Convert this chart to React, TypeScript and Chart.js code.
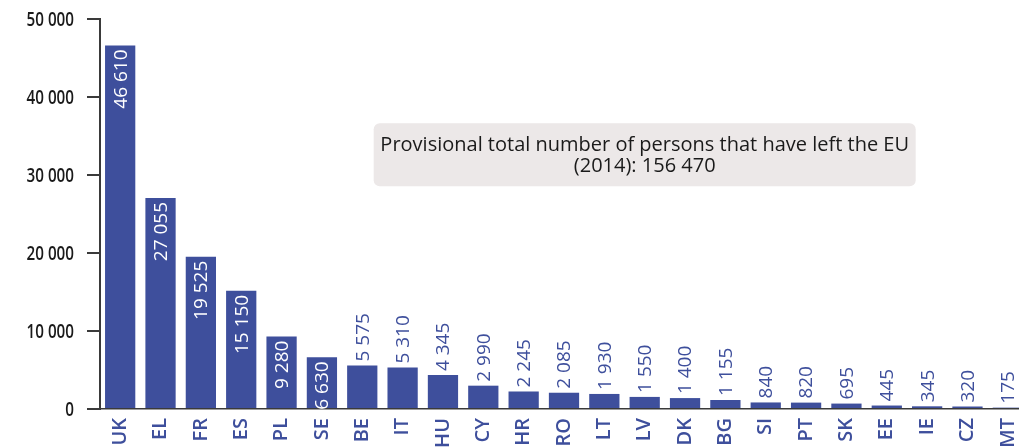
import React, { useEffect, useRef } from 'react';
import { Chart, registerables } from 'chart.js';

Chart.register(...registerables);

const categories = ['UK', 'EL', 'FR', 'ES', 'PL', 'SE', 'BE', 'IT', 'HU', 'CY', 'HR', 'RO', 'LT', 'LV', 'DK', 'BG', 'SI', 'PT', 'SK', 'EE', 'IE', 'CZ', 'MT'];
const values = [46610, 27055, 19525, 15150, 9280, 6630, 5575, 5310, 4345, 2990, 2245, 2085, 1930, 1550, 1400, 1155, 840, 820, 695, 445, 345, 320, 175];
const yTicks = [0, 10000, 20000, 30000, 40000, 50000];
const noteLines = ['Provisional total number of persons that have left the EU', '(2014): 156 470'];

const BLUE = '#3e4f9c';
const AXIS = '#3a3a3a';
const TEXT = '#1a1a1a';

const fmt = (v: number) => String(v).replace(/\B(?=(\d{3})+(?!\d))/g, ' ');

const valueLabels = {
  id: 'valueLabels',
  afterDatasetsDraw(chart: any) {
    const ctx = chart.ctx;
    const meta = chart.getDatasetMeta(0);
    meta.data.forEach((bar: any, i: number) => {
      const v = values[i];
      const inside = v > 6000;
      ctx.save();
      ctx.translate(bar.x, inside ? bar.y + 4 : bar.y - 4);
      ctx.rotate(-Math.PI / 2);
      ctx.textAlign = inside ? 'right' : 'left';
      ctx.textBaseline = 'middle';
      ctx.fillStyle = inside ? '#ffffff' : BLUE;
      ctx.font = '19px "Open Sans"';
      ctx.fillText(fmt(v), 0, 1);
      ctx.restore();
    });
  },
};

const yLabels = {
  id: 'yLabels',
  afterDraw(chart: any) {
    const ctx = chart.ctx;
    const ys = chart.scales.y;
    const right = ys.right - 13 - 13;
    ctx.save();
    ctx.fillStyle = TEXT;
    ctx.font = '600 20px "Open Sans"';
    ctx.textAlign = 'right';
    ctx.textBaseline = 'middle';
    yTicks.forEach((v) => {
      const y = ys.getPixelForValue(v);
      ctx.save();
      ctx.translate(right, y + 1);
      ctx.scale(0.76, 1);
      ctx.fillText(fmt(v), 0, 0);
      ctx.restore();
    });
    ctx.restore();
  },
};

const noteBox = {
  id: 'noteBox',
  afterDraw(chart: any) {
    const ctx = chart.ctx;
    const xs = chart.scales.x;
    const ys = chart.scales.y;
    const cx = xs.getPixelForValue(13);
    const cy = ys.getPixelForValue(32600);
    const w = 542;
    const h = 63;
    ctx.save();
    ctx.fillStyle = '#ece8e8';
    ctx.beginPath();
    (ctx as any).roundRect(cx - w / 2, cy - h / 2, w, h, 6);
    ctx.fill();
    ctx.fillStyle = TEXT;
    ctx.font = '20px "Open Sans"';
    ctx.textAlign = 'center';
    ctx.textBaseline = 'alphabetic';
    ctx.fillText(noteLines[0], cx, cy - 4);
    ctx.fillText(noteLines[1], cx, cy + 17);
    ctx.restore();
  },
};

export default function App() {
  const ref = useRef<HTMLCanvasElement>(null);
  useEffect(() => {
    if (!ref.current) return;
    const chart = new Chart(ref.current, {
      type: 'bar',
      data: {
        labels: categories,
        datasets: [
          {
            data: values,
            backgroundColor: BLUE,
            borderWidth: 0,
            categoryPercentage: 1,
            barPercentage: 0.75,
          },
        ],
      },
      options: {
        animation: false,
        responsive: false,
        devicePixelRatio: 1,
        layout: { padding: { top: 19, right: 4, left: 0, bottom: 0 } },
        plugins: { legend: { display: false }, tooltip: { enabled: false } },
        scales: {
          x: {
            grid: { display: false, drawTicks: false },
            border: { display: true, color: AXIS, width: 1.5 },
            ticks: {
              autoSkip: false,
              minRotation: 90,
              maxRotation: 90,
              padding: 9,
              color: BLUE,
              font: { family: '"Open Sans"', size: 20, weight: '600' },
            },
            afterFit(scale: any) {
              scale.height = 39;
              scale.paddingLeft = 0;
              scale.paddingRight = 0;
            },
          },
          y: {
            min: 0,
            max: 50000,
            afterBuildTicks(scale: any) {
              scale.ticks = yTicks.map((v) => ({ value: v }));
            },
            grid: { drawOnChartArea: false, drawTicks: true, tickLength: 13, color: AXIS, lineWidth: 2 },
            border: { display: true, color: AXIS, width: 2 },
            ticks: { display: false },
            afterFit(scale: any) {
              scale.width = 100;
              scale.paddingTop = 0;
              scale.paddingBottom = 0;
            },
          },
        },
      },
      plugins: [valueLabels, yLabels, noteBox],
    });
    return () => chart.destroy();
  }, []);
  return (
    <div style={{ position: 'fixed', left: 0, top: 0, width: 1019, height: 448, overflow: 'hidden', background: '#fff' }}>
      <canvas ref={ref} width={1032} height={448} style={{ display: 'block' }} />
    </div>
  );
}
